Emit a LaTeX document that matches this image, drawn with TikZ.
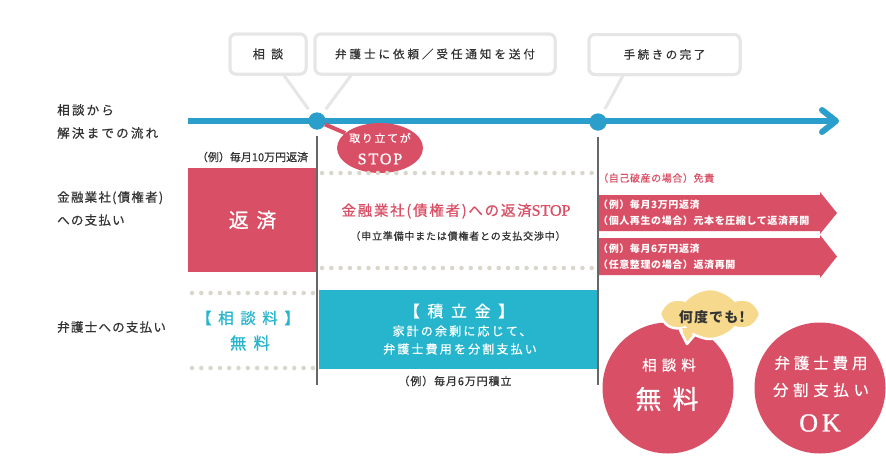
\documentclass[tikz,border=0pt]{standalone}
\usepackage{fontspec}
\setmainfont{Noto Sans CJK JP}[UprightFeatures={FakeBold=0.6}]
\newfontfamily\serifl{Liberation Serif}[UprightFeatures={FakeBold=1}]
\usetikzlibrary{shapes.geometric,shapes.symbols,calc}
\definecolor{cred}{HTML}{D95066}
\definecolor{cteal}{HTML}{26B5CC}
\definecolor{cblue}{HTML}{2A9FCC}
\definecolor{cdot}{HTML}{D9D6CC}
\definecolor{cbord}{HTML}{E6E6E6}
\definecolor{ctext}{HTML}{333333}
\definecolor{cvline}{HTML}{666666}
\definecolor{cyel}{HTML}{F6D98C}
\newcommand\fs[2]{\fontsize{#1}{#2}\selectfont}
\newcommand\lsp[1]{\addfontfeatures{LetterSpace=#1}}
\tikzset{
  callout/.style={draw=cbord, line width=3pt, rounded corners=6pt, fill=white, minimum height=40pt, text=ctext, inner sep=0pt},
  ptr/.style={draw=cbord, line width=3pt},
  tdot/.style={circle, fill=cblue, minimum size=17pt, inner sep=0pt},
  dotrow/.style={draw=cdot, line width=4.5pt, line cap=round, dash pattern=on 0pt off 9.3pt},
  vline/.style={draw=cvline, line width=2pt},
  lbl/.style={text=ctext, align=left, anchor=west, inner sep=0pt},
  txt/.style={inner sep=0pt, align=center},
  bigcirc/.style={circle, fill=cred, minimum size=131pt, inner sep=0pt},
}
\begin{document}
\begin{tikzpicture}[x=1pt,y=-1pt]
\useasboundingbox[fill=white] (0,0) rectangle (886,456);

% left labels
\node[lbl, font={\fs{12.5}{23}\lsp{18}}] (l1) at (57,121.5) {相談から\\解決までの流れ};
\node[lbl, font={\fs{12.5}{23}\lsp{10}}] (l2) at (57,208.5) {金融業社(債権者)\\への支払い};
\node[lbl, font={\fs{12.5}{23}\lsp{10}}] (l3) at (57,327) {弁護士への支払い};

% timeline dots
\node[tdot] (d1) at (317,121) {};
\node[tdot] (d2) at (598,122) {};
\coordinate (ts) at (188,121);
\coordinate (te) at (836,121);

% callouts
\node[callout, minimum width=76pt] (ca) at (268,54) {};
\node[callout, minimum width=240pt] (cb) at (435,54) {};
\node[callout, minimum width=151pt] (cc) at (664.5,54.5) {};
\draw[ptr, shorten >=6pt] ([xshift=15pt,yshift=1.5pt]ca.south) -- (d1);
\draw[ptr, shorten >=6pt] ([xshift=-83pt,yshift=1.5pt]cb.south) -- (d1);
\draw[ptr, shorten >=6pt] ([xshift=-41pt,yshift=1.5pt]cc.south) -- (d2);
% callouts on top of their pointers
\node[callout, minimum width=76pt, font={\fs{12}{12}\lsp{30}}] (ca2) at (268,54) {相 談};
\node[callout, minimum width=240pt, font={\fs{11.5}{12}\lsp{26}}] (cb2) at (435,54) {弁護士に依頼／受任通知を送付};
\node[callout, minimum width=151pt, font={\fs{11.5}{12}\lsp{22}}] (cc2) at (664.5,54.5) {手続きの完了};

% timeline
\draw[cblue, line width=6pt] (ts) -- ($(te)+(-2,0)$);
\draw[cblue, line width=6pt, line cap=round, line join=round] ($(te)+(-14,-11)$) -- (te) -- ($(te)+(-14,11)$);
\node[tdot] (d1b) at (317,121) {};
\node[tdot] (d2b) at (598,122) {};

% STOP ellipse
\node[ellipse, fill=cred, minimum width=86pt, minimum height=50pt, inner sep=0pt] (stop) at (380,148) {};
\draw[cred, line width=4pt] (d1) -- (stop);
\node[txt, text=white, font={\fs{11}{12}\lsp{15}}] (stopa) at (380,138) {取り立てが};
\node[txt, text=white, font={\fs{16}{16}\serifl\lsp{12}}] (stopb) at (380,159) {STOP};

% left red box
\node[txt, text=ctext, font={\fs{11}{12}}] (ex1) at (252.5,157) {（例）毎月10万円返済};
\node[fill=cred, minimum width=129pt, minimum height=104pt, inner sep=0pt, text=white, font={\fs{20}{20}\lsp{15}}] (hensai) at (252.5,220) {返 済};

% dotted rows
\draw[dotrow] (322,173) -- (595,173);
\draw[dotrow] (322,268) -- (595,268);
\draw[dotrow] (192,293) -- (314,293);
\draw[dotrow] (192,368) -- (314,368);

% middle text
\node[txt, text=cred, font={\fs{14.5}{14}\lsp{12}}] (mid1) at (456,211) {金融業社(債権者)への返済{\serifl\fontsize{16}{15}\selectfont STOP}};
\node[txt, text=ctext, font={\fs{10}{11}\lsp{8}}] (mid2) at (458,236) {（申立準備中または債権者との支払交渉中）};

% teal box
\node[fill=cteal, minimum width=278pt, minimum height=79pt, inner sep=0pt] (teal) at (458,329.5) {};
\node[txt, text=white, font={\fs{16}{16}\lsp{25}}] (t1) at (459,311) {【 積 立 金 】};
\node[txt, text=white, font={\fs{12}{13}\lsp{18}}] (t2) at (462,331) {家計の余剰に応じて、};
\node[txt, text=white, font={\fs{12}{13}\lsp{18}}] (t3) at (460,349) {弁護士費用を分割支払い};
\node[txt, text=ctext, font={\fs{11}{12}\lsp{8}}] (ex2) at (455,381) {（例）毎月6万円積立};

% left teal text
\node[txt, text=cteal, font={\fs{15.5}{16}\lsp{20}}] (s1) at (248,318) {【 相 談 料 】};
\node[txt, text=cteal, font={\fs{16.5}{16}\lsp{20}}] (s2) at (250,343) {無 料};

% vertical lines
\coordinate (v1) at (317,385);
\coordinate (v2) at (598,385);
\draw[vline, shorten <=6pt] (d1) -- (v1);
\draw[vline, shorten <=6pt] (d2) -- (v2);

% right side
\node[lbl, text=cred, font={\fs{10}{11}\lsp{6}}] (r0) at (598,178) {（自己破産の場合）免責};
\fill[cred] (599,195) -- (820,195) -- (820,192) -- (837,213) -- (820,234) -- (820,231) -- (599,231) -- cycle;
\fill[cred] (599,238) -- (820,238) -- (820,235) -- (837,256.5) -- (820,278) -- (820,275) -- (599,275) -- cycle;
\node[lbl, text=white, font={\fs{10}{16}\bfseries\lsp{6}}] (r1) at (598,213) {（例）毎月3万円返済\\（個人再生の場合）元本を圧縮して返済再開};
\node[lbl, text=white, font={\fs{10}{16}\bfseries\lsp{6}}] (r2) at (598,256.5) {（例）毎月6万円返済\\（任意整理の場合）返済再開};

% circles
\node[bigcirc] (cA) at (668,388) {};
\node[bigcirc] (cB) at (820,388) {};
\node[txt, text=white, font={\fs{14.5}{15}\lsp{35}}] (cA1) at (669,365) {相談料};
\node[txt, text=white, font={\fs{26}{26}\lsp{20}}] (cA2) at (667,399) {無 料};
\node[txt, text=white, font={\fs{15.5}{16}\lsp{25}}] (cB1) at (821,363) {弁護士費用};
\node[txt, text=white, font={\fs{15.5}{16}\lsp{30}}] (cB2) at (821,390) {分割支払い};
\node[txt, text=white, font={\fs{26}{26}\serifl\lsp{15}}] (cB3) at (820,423) {OK};

% cloud
\filldraw[fill=cyel, draw=white, line width=2.5pt, line join=round] (680,330) -- (687,344) -- (699,330) -- cycle;
\node[cloud, cloud puffs=6, cloud puff arc=100, aspect=2, fill=cyel, draw=white, line width=2.5pt, minimum width=94pt, minimum height=50pt, inner sep=0pt] (cloud) at (710,314) {};
\fill[cyel] (682,328) -- (687,340) -- (697,328) -- cycle;
\node[txt, text=ctext, font={\fs{14}{14}\bfseries\lsp{8}}] (cl) at (712,317) {何度でも!};
\end{tikzpicture}
\end{document}
